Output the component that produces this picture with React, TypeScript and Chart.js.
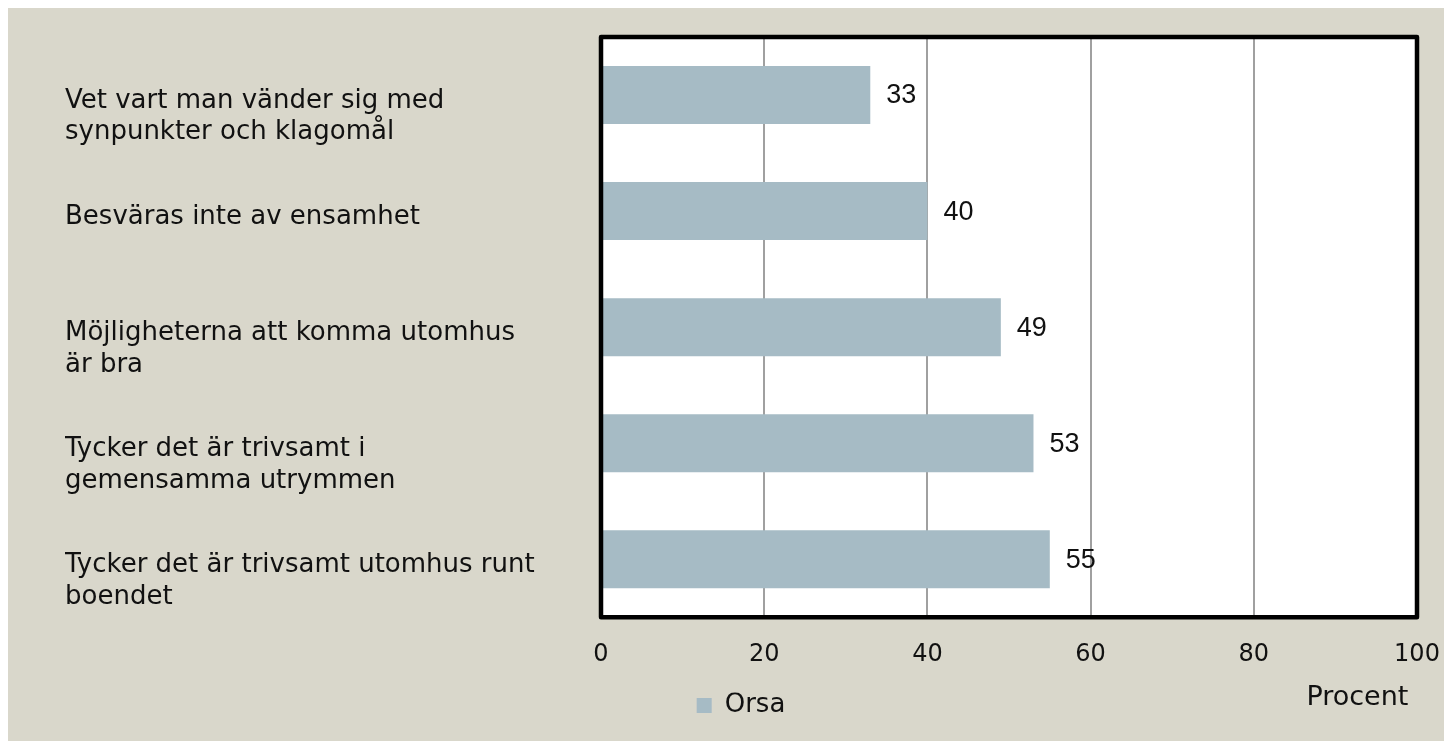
import React, { useEffect, useRef } from "react";
import { Chart, registerables } from "chart.js";

Chart.register(...registerables);

const categories: string[][] = [
  ["Vet vart man vänder sig med", "synpunkter och klagomål"],
  ["Besväras inte av ensamhet", ""],
  ["Möjligheterna att komma utomhus", "är bra"],
  ["Tycker det är trivsamt i", "gemensamma utrymmen"],
  ["Tycker det är trivsamt utomhus runt", "boendet"],
];
const seriesName = "Orsa";
const values: number[] = [33, 40, 49, 53, 55];
const axisTitle = "Procent ";
const xMin = 0;
const xMax = 100;
const xStep = 20;

const BG = "#D9D7CB";
const BAR = "#A6BBC5";
const TEXT = "#111111";
const LABEL_FONT = "'DejaVu Sans', sans-serif";

const plotBackground = {
  id: "plotBackground",
  beforeDraw(chart: any) {
    const { ctx, chartArea } = chart;
    ctx.save();
    ctx.fillStyle = "#FFFFFF";
    ctx.fillRect(chartArea.left, chartArea.top, chartArea.right - chartArea.left, chartArea.bottom - chartArea.top);
    ctx.restore();
  },
};

const plotBorder = {
  id: "plotBorder",
  afterDatasetsDraw(chart: any) {
    const { ctx, chartArea } = chart;
    ctx.save();
    ctx.strokeStyle = "#000000";
    ctx.lineWidth = 4.5;
    ctx.lineJoin = "round";
    ctx.strokeRect(chartArea.left, chartArea.top, chartArea.right - chartArea.left, chartArea.bottom - chartArea.top);
    ctx.restore();
  },
};

const valueLabels = {
  id: "valueLabels",
  afterDatasetsDraw(chart: any) {
    const { ctx } = chart;
    const meta = chart.getDatasetMeta(0);
    ctx.save();
    ctx.fillStyle = TEXT;
    ctx.font = "27px 'Liberation Sans', Arial, sans-serif";
    ctx.textAlign = "left";
    ctx.textBaseline = "middle";
    meta.data.forEach((bar: any, i: number) => {
      const v = chart.data.datasets[0].data[i];
      ctx.fillText(String(v), bar.x + 16, bar.y + 1);
    });
    ctx.restore();
  },
};

export default function App() {
  const canvasRef = useRef<HTMLCanvasElement | null>(null);

  useEffect(() => {
    const canvas = canvasRef.current;
    if (!canvas) return;
    const chart = new Chart(canvas, {
      type: "bar",
      data: {
        labels: categories,
        datasets: [
          {
            label: seriesName,
            data: values,
            backgroundColor: BAR,
            borderWidth: 0,
            barPercentage: 0.5,
            categoryPercentage: 1,
          },
        ],
      },
      options: {
        indexAxis: "y",
        responsive: false,
        animation: false,
        layout: { padding: { left: 57, right: 35, top: 29, bottom: 12.5 } },
        plugins: {
          legend: {
            position: "bottom",
            labels: {
              boxWidth: 15,
              boxHeight: 15,
              padding: 0,
              color: TEXT,
              font: { family: LABEL_FONT, size: 26 },
            },
          },
          tooltip: { enabled: false },
        },
        scales: {
          x: {
            min: xMin,
            max: xMax,
            ticks: {
              stepSize: xStep,
              color: TEXT,
              padding: 23,
              font: { family: LABEL_FONT, size: 24 },
            },
            grid: { color: "#A0A0A0", lineWidth: 2, drawTicks: false },
            border: { display: false },
            title: {
              display: true,
              text: axisTitle,
              align: "end",
              color: TEXT,
              font: { family: LABEL_FONT, size: 27 },
              padding: { top: -10, bottom: -22 },
            },
            afterFit: (scale: any) => {
              scale.paddingLeft = 0;
              scale.paddingRight = 0;
            },
          },
          y: {
            ticks: {
              crossAlign: "far",
              color: TEXT,
              labelOffset: 22,
              font: { family: LABEL_FONT, size: 26 },
            },
            grid: { display: false, drawTicks: false },
            border: { display: false },
            afterFit: (scale: any) => {
              scale.width = 536;
              scale.paddingTop = 0;
              scale.paddingBottom = 0;
            },
          },
        },
      },
      plugins: [plotBackground, plotBorder, valueLabels],
    });
    return () => chart.destroy();
  }, []);

  return (
    <div style={{ width: 1444, height: 733, background: BG }}>
      <canvas ref={canvasRef} width={1444} height={733} style={{ display: "block" }} />
    </div>
  );
}
